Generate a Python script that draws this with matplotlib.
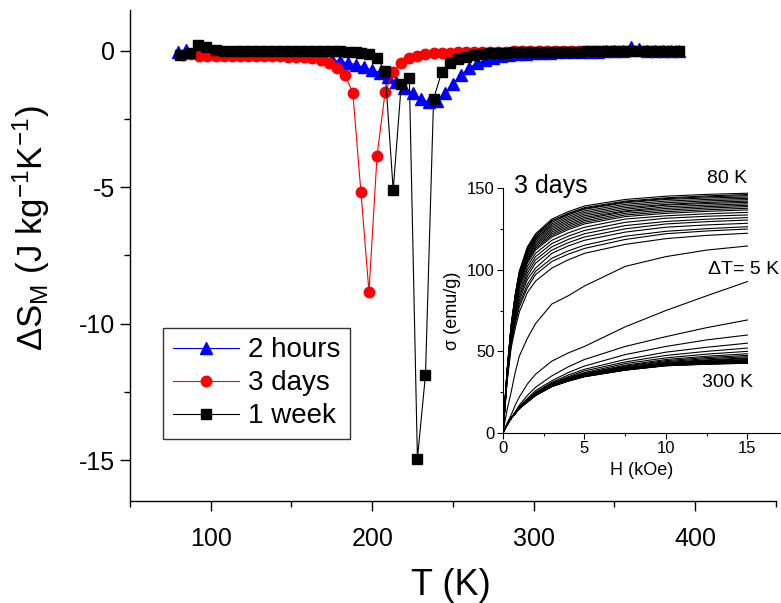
import matplotlib
matplotlib.use("Agg")
import matplotlib.pyplot as plt
from matplotlib.ticker import MultipleLocator

plt.rcParams['font.family'] = ['Liberation Sans', 'DejaVu Sans']
plt.rcParams['mathtext.fontset'] = 'custom'
plt.rcParams['mathtext.rm'] = 'Liberation Sans'
plt.rcParams['mathtext.it'] = 'Liberation Sans:italic'
plt.rcParams['axes.unicode_minus'] = False

# ---------------- main panel data ----------------
T_2h = [80, 85, 90, 95, 100, 105, 110, 115, 120, 125, 130, 135, 140, 145, 150, 155,
        160, 165, 170, 175, 180, 185, 190, 195, 200, 205, 210, 215, 220, 225, 230, 235,
        240, 245, 250, 255, 260, 265, 270, 275, 280, 285, 290, 295, 300, 305, 310, 315,
        320, 325, 330, 335, 340, 345, 350, 355, 360, 365, 370, 375, 380, 385, 390]
dS_2h = [-0.05, 0.05, -0.02, -0.03, -0.04, -0.04, -0.05, -0.05, -0.05, -0.05, -0.06, -0.06, -0.07, -0.08, -0.10, -0.13,
         -0.16, -0.20, -0.26, -0.33, -0.38, -0.44, -0.50, -0.60, -0.70, -0.80, -0.95, -1.15, -1.35, -1.55, -1.75, -1.88,
         -1.85, -1.55, -1.20, -0.90, -0.62, -0.45, -0.33, -0.25, -0.19, -0.15, -0.12, -0.10, -0.08, -0.07, -0.06, -0.05,
         -0.05, -0.04, -0.04, -0.03, -0.03, -0.02, -0.02, -0.01, 0.15, 0.08, -0.01, 0.00, -0.01, 0.00, 0.00]

T_3d = [83, 88, 93, 98, 103, 108, 113, 118, 123, 128, 133, 138, 143, 148, 153, 158,
        163, 168, 173, 178, 183, 188, 193, 198, 203, 208, 213, 218, 223, 228, 233, 238,
        243, 248, 253, 258, 263, 268, 273, 278, 283, 288, 293, 298, 303, 308, 313, 318,
        323, 328, 333, 338, 343, 348, 353, 358, 363, 368, 373, 378, 383, 388]
dS_3d = [-0.15, -0.12, -0.17, -0.18, -0.18, -0.18, -0.19, -0.19, -0.19, -0.19, -0.20, -0.20, -0.20, -0.21, -0.21, -0.23,
         -0.27, -0.33, -0.44, -0.63, -0.88, -1.53, -5.16, -8.83, -3.85, -1.51, -0.78, -0.45, -0.27, -0.18, -0.12, -0.09,
         -0.07, -0.06, -0.05, -0.05, -0.04, -0.04, -0.03, -0.03, -0.03, -0.02, -0.02, -0.02, -0.02, -0.02, -0.02, -0.01,
         -0.01, -0.01, -0.01, -0.01, -0.01, -0.01, -0.01, -0.01, -0.01, -0.01, 0.00, 0.00, 0.00, 0.00]

T_1w = [81, 87, 92, 97, 103, 108, 115, 120, 125, 130, 135, 140, 145, 150, 155, 160,
        165, 170, 175, 180, 185, 190, 193, 198, 203, 208, 213, 218, 223, 228, 233, 238,
        243, 248, 253, 258, 263, 268, 273, 278, 283, 288, 293, 298, 303, 308, 313, 318,
        323, 328, 333, 338, 343, 348, 353, 358, 363, 368, 373, 378, 383, 390]
dS_1w = [-0.15, -0.08, 0.20, 0.15, 0.02, 0.00, -0.02, 0.00, 0.00, 0.00, 0.00, 0.00, 0.00, 0.00, 0.00, 0.00,
         0.00, -0.01, -0.01, -0.02, -0.03, -0.04, -0.06, -0.12, -0.27, -0.73, -5.10, -1.22, -0.98, -14.95, -11.87, -1.77,
         -0.78, -0.43, -0.30, -0.22, -0.16, -0.12, -0.09, -0.07, -0.06, -0.05, -0.05, -0.04, -0.04, -0.04, -0.03, -0.03,
         -0.03, -0.03, -0.02, -0.02, -0.02, -0.02, -0.02, -0.02, -0.02, -0.02, -0.02, -0.01, -0.01, -0.01]

series_labels = ['2 hours', '3 days', '1 week']

# ---------------- inset data (3 days, M(H) isotherms, 80 K ... 300 K) ----------------
H_kOe = [0, 0.1, 0.25, 0.5, 0.75, 1, 1.5, 2, 3, 4, 5, 7.5, 10, 12.5, 15]
T_iso = list(range(80, 305, 5))
M_iso = [
    [0, 16, 38, 66, 85, 99, 114, 122, 131, 135.5, 139, 143, 145, 146.1, 146.8],
    [0, 16, 38, 66, 84, 98, 113, 121, 130, 134.5, 138, 142, 144, 145.2, 146.0],
    [0, 16, 38, 65, 84, 98, 113, 121, 130, 134, 137.5, 141.5, 143.5, 144.6, 145.3],
    [0, 15, 37, 65, 83, 97, 112, 120, 129, 133.5, 137, 141, 143, 143.9, 144.5],
    [0, 15, 37, 65, 83, 97, 111, 119, 128, 132.5, 136, 140, 142, 143.0, 143.7],
    [0, 15, 37, 64, 82, 96, 111, 119, 127, 131.5, 135, 139, 141, 142.1, 142.9],
    [0, 15, 37, 64, 82, 96, 110, 118, 126, 130.5, 134, 138, 140, 141.2, 142.0],
    [0, 15, 36, 63, 81, 95, 109, 117, 125, 129.5, 133, 137, 139.5, 140.5, 141.2],
    [0, 15, 36, 63, 80, 94, 108, 116, 124, 128.5, 132, 136, 138.5, 139.5, 140.3],
    [0, 15, 36, 62, 79, 93, 107, 115, 123, 127.5, 131, 135.5, 137.5, 138.6, 139.4],
    [0, 15, 36, 62, 79, 92, 106, 114, 122, 126.5, 130, 134.5, 136.5, 137.7, 138.6],
    [0, 14, 35, 61, 78, 91, 105, 113, 121, 125.5, 129, 133.5, 135.5, 136.7, 137.6],
    [0, 14, 35, 61, 77, 90, 104, 112, 120, 124.5, 128, 132.5, 134.5, 135.7, 136.6],
    [0, 14, 35, 60, 76, 89, 102, 110, 118, 122.5, 126, 131, 133, 134.2, 135.1],
    [0, 14, 34, 59, 75, 87, 100, 108, 116, 120.5, 124, 129, 131.5, 132.7, 133.5],
    [0, 14, 34, 58, 73, 85, 98, 106, 114, 118.5, 122, 127, 129.5, 130.9, 131.9],
    [0, 13, 33, 57, 72, 83, 96, 104, 112, 116.5, 120, 125, 128, 129.4, 130.4],
    [0, 13, 33, 56, 70, 81, 94, 101, 110, 114.5, 118, 123, 126, 127.4, 128.4],
    [0, 13, 32, 55, 68, 79, 91, 99, 107, 111.5, 115, 120.5, 123.5, 125.1, 126.3],
    [0, 13, 32, 54, 67, 77, 89, 97, 105, 109.5, 113, 118.5, 122, 123.7, 124.9],
    [0, 12, 31, 52, 64, 74, 86, 93, 101, 106, 110, 115.5, 119, 121, 122.3],
    [0, 6, 14, 25, 37, 47, 58, 67, 79, 84, 90, 102, 108, 112, 114.5],
    [0, 2.5, 6, 11, 17, 22, 30, 36, 44, 49, 53, 65, 75, 84, 92.7],
    [0, 2, 5, 9, 13, 17, 23, 28, 35, 40.5, 45, 53, 59, 64.5, 69.2],
    [0, 2, 5, 9, 12.5, 16, 21, 26, 32, 37, 41, 48, 53, 57, 60],
    [0, 2, 5, 9, 12.5, 16, 21, 25, 31, 35.5, 39, 45, 49.5, 52.5, 55],
    [0, 2, 5, 9, 12.5, 15.5, 20.5, 24.5, 30.5, 34.5, 38, 43.5, 47.5, 50, 52],
    [0, 2, 5, 9, 12.5, 15.5, 20, 24, 30, 34, 37, 42.5, 46, 48.3, 50],
    [0, 2, 5, 9, 12.5, 15.5, 20, 24, 29.5, 33.5, 36.5, 41.5, 45, 47, 48.5],
    [0, 2, 5, 9, 12, 15, 20, 24, 29.5, 33, 36, 41, 44.3, 46.2, 47.5],
    [0, 2, 5, 9, 12, 15, 20, 24, 29, 33, 36, 40.5, 43.7, 45.5, 46.7],
    [0, 2, 5, 9, 12, 15, 20, 24, 29, 32.5, 35.5, 40, 43.2, 44.8, 46.0],
    [0, 2, 5, 9, 12, 15, 20, 24, 29, 32.5, 35.5, 39.8, 42.8, 44.4, 45.5],
    [0, 2, 5, 9, 12, 15, 20, 24, 29, 32.5, 35.3, 39.5, 42.5, 44, 45.0],
    [0, 2, 5, 9, 12, 15, 20, 24, 29, 32.5, 35.2, 39.3, 42.2, 43.7, 44.6],
    [0, 2, 5, 9, 12, 15, 20, 24, 29, 32.5, 35.1, 39.2, 42, 43.4, 44.3],
    [0, 2, 5, 9, 12, 15, 19.5, 23.5, 29, 32.3, 35, 39, 41.9, 43.2, 44.0],
    [0, 2, 5, 9, 12, 15, 19.5, 23.5, 29, 32.3, 35, 39, 41.8, 43, 43.8],
    [0, 2, 5, 9, 12, 15, 19.5, 23.5, 28.5, 32, 35, 39, 41.7, 42.9, 43.6],
    [0, 2, 5, 9, 12, 15, 19.5, 23.5, 28.5, 32, 35, 39, 41.6, 42.7, 43.4],
    [0, 2, 5, 9, 12, 15, 19, 23, 28.5, 32, 34.8, 38.8, 41.5, 42.5, 43.2],
    [0, 2, 5, 9, 12, 15, 19, 23, 28.5, 32, 34.7, 38.7, 41.4, 42.4, 43.0],
    [0, 2, 5, 9, 12, 15, 19, 23, 28.5, 31.8, 34.6, 38.6, 41.3, 42.3, 42.9],
    [0, 2, 5, 9, 12, 15, 19, 23, 28.5, 31.8, 34.5, 38.5, 41.2, 42.2, 42.8],
    [0, 2, 5, 9, 12, 15, 19, 23, 28.5, 31.8, 34.5, 38.5, 41.2, 42.1, 42.7],
]

# ---------------- figure ----------------
fig = plt.figure(figsize=(7.81, 6.03), dpi=100)
ax = fig.add_axes([0.1664, 0.1692, 0.8271, 0.8143])

ax.plot(T_2h, dS_2h, color='blue', marker='^', ms=8, lw=0.8, label=series_labels[0])
ax.plot(T_3d, dS_3d, color='red', marker='o', ms=7.5, lw=0.8, label=series_labels[1])
ax.plot(T_1w, dS_1w, color='black', marker='s', ms=7, lw=0.8, label=series_labels[2])

ax.set_xlim(50, 450)
ax.set_ylim(-16.5, 1.5)
ax.xaxis.set_major_locator(MultipleLocator(100))
ax.xaxis.set_minor_locator(MultipleLocator(50))
ax.yaxis.set_major_locator(MultipleLocator(5))
ax.yaxis.set_minor_locator(MultipleLocator(2.5))
for s in ['top', 'right']:
    ax.spines[s].set_visible(False)
for s in ['left', 'bottom']:
    ax.spines[s].set_linewidth(1.0)
ax.tick_params(which='major', direction='out', length=7, width=1.0, labelsize=18)
ax.tick_params(which='minor', direction='out', length=4, width=1.0)
ax.tick_params(axis='x', which='major', pad=12)
ax.tick_params(axis='y', which='major', pad=4)

ax.set_xlabel('T (K)', fontsize=26)
ax.xaxis.set_label_coords(0.497, -0.137)
ax.xaxis.label.set_va('top')
ax.set_ylabel(r'$\Delta$S$_\mathregular{M}$ (J kg$^\mathregular{-1}$K$^\mathregular{-1}$)', fontsize=25)
ax.yaxis.set_label_coords(-0.12, 0.556)

leg = ax.legend(loc='lower left', bbox_to_anchor=(0.051, 0.126), borderaxespad=0,
                fontsize=20, frameon=True, fancybox=False, handlelength=2.4,
                handletextpad=0.3, labelspacing=0.25, borderpad=0.35)
leg.get_frame().set_edgecolor('black')
leg.get_frame().set_linewidth(1.0)

# ---------------- inset ----------------
ins = fig.add_axes([0.644, 0.2819, 0.3547, 0.4063])
for M in M_iso:
    ins.plot(H_kOe, M, color='black', lw=0.8)
ins.set_xlim(0, 17)
ins.set_ylim(0, 150)
ins.xaxis.set_major_locator(MultipleLocator(5))
ins.xaxis.set_minor_locator(MultipleLocator(2.5))
ins.yaxis.set_major_locator(MultipleLocator(50))
ins.yaxis.set_minor_locator(MultipleLocator(25))
for s in ['top', 'right']:
    ins.spines[s].set_visible(False)
ins.tick_params(which='major', direction='out', length=4, width=0.8, labelsize=12, pad=2)
ins.tick_params(which='minor', direction='out', length=2.5, width=0.8)
ins.set_xlabel('H (kOe)', fontsize=13)
ins.set_ylabel('σ (emu/g)', fontsize=13)
ins.patch.set_alpha(0)

ins.text(0.7, 151, '3 days', fontsize=18, va='center', ha='left')
ins.text(15, 156, '80 K', fontsize=14, va='center', ha='right')
ins.text(12.6, 100, 'ΔT= 5 K', fontsize=14, va='center', ha='left')
ins.text(12.2, 31, '300 K', fontsize=14, va='center', ha='left')

fig.savefig('out.png', dpi=100)
